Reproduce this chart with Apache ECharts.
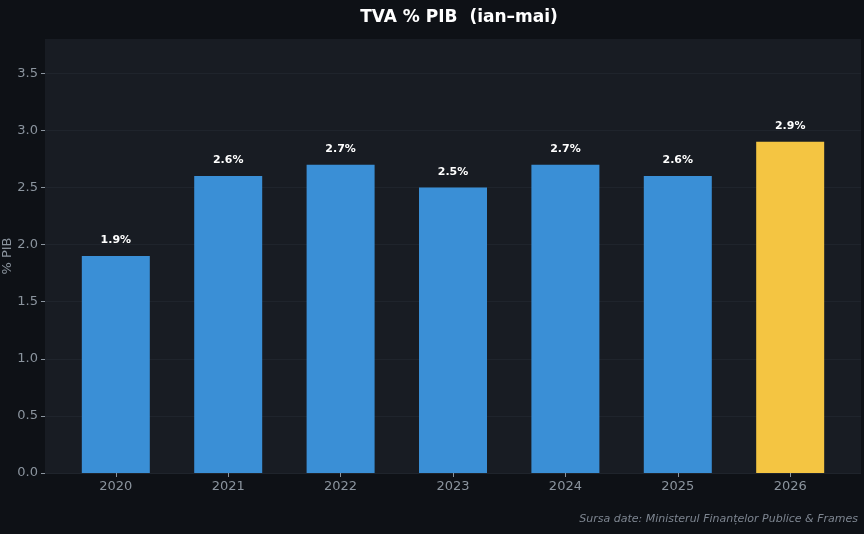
<html>
<head>
    <meta charset="utf-8" />
    <title>TVA % PIB</title>
    <script src="https://cdn.jsdelivr.net/npm/echarts@6/dist/echarts.min.js"></script>
    <style>
        body { margin: 0; background: #0e1116; }
        #chart { width: 864px; height: 534px; }
    </style>
</head>
<body>
    <div id="chart"></div>
    <script type="text/javascript">
        // data
        var years = ['2020', '2021', '2022', '2023', '2024', '2025', '2026'];
        var tvaPib = [1.9, 2.6, 2.7, 2.5, 2.7, 2.6, 2.9];
        var yTicks = [0, 0.5, 1.0, 1.5, 2.0, 2.5, 3.0, 3.5];
        var highlightYear = '2026';

        var font = 'DejaVu Sans';
        var chart = echarts.init(document.getElementById('chart'));

        var barData = years.map(function (y, i) {
            return {
                value: [i, tvaPib[i]],
                itemStyle: { color: y === highlightYear ? '#f4c542' : '#3a8fd6' }
            };
        });

        var option = {
            backgroundColor: '#0e1116',
            animation: false,
            title: {
                text: 'TVA % PIB  (ian–mai)',
                left: 454, top: 4, textAlign: 'center',
                textStyle: { color: '#ffffff', fontSize: 17, fontWeight: 'bold', fontFamily: font }
            },
            graphic: [{
                type: 'text', right: 6, bottom: 9,
                style: {
                    text: 'Sursa date: Ministerul Finanțelor Publice & Frames',
                    fill: '#7d8590', font: 'italic 11px "DejaVu Sans"'
                }
            }],
            grid: {
                left: 45, right: 3, top: 39, bottom: 61,
                outerBoundsMode: 'none', containLabel: false,
                show: true, backgroundColor: '#181c23', borderWidth: 0
            },
            xAxis: {
                type: 'value', min: -0.63, max: 6.63,
                axisLine: { show: false, onZero: false },
                splitLine: { show: false },
                axisTick: { show: true, customValues: [0, 1, 2, 3, 4, 5, 6], length: 4, lineStyle: { color: '#8b949e' } },
                axisLabel: {
                    customValues: [0, 1, 2, 3, 4, 5, 6],
                    formatter: function (v) { return years[Math.round(v)]; },
                    color: '#8b949e', fontSize: 13, fontFamily: font, margin: 7
                }
            },
            yAxis: {
                type: 'value', min: 0, max: 3.8,
                name: '% PIB', nameLocation: 'middle', nameGap: 31, nameRotate: 90,
                nameMoveOverlap: false,
                nameTextStyle: { color: '#8b949e', fontSize: 13, fontFamily: font },
                axisLine: { show: false, onZero: false },
                axisTick: { show: true, customValues: yTicks, length: 4, lineStyle: { color: '#8b949e' } },
                axisLabel: {
                    customValues: yTicks,
                    formatter: function (v) { return v.toFixed(1); },
                    color: '#8b949e', fontSize: 13, fontFamily: font, margin: 7
                },
                splitLine: { show: true, lineStyle: { color: '#1f242c', width: 1 } }
            },
            series: [{
                type: 'bar',
                barWidth: 68,
                data: barData,
                label: {
                    show: true, position: 'top', distance: 10,
                    formatter: function (p) { return p.value[1].toFixed(1) + '%'; },
                    color: '#ffffff', fontSize: 11, fontWeight: 'bold', fontFamily: font
                }
            }]
        };
        chart.setOption(option);
    </script>
</body>
</html>
